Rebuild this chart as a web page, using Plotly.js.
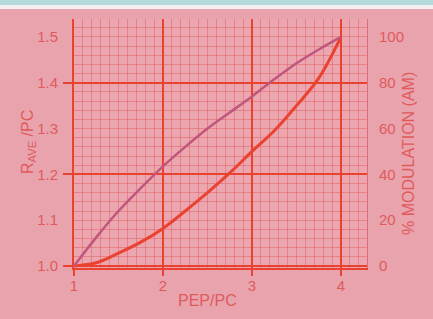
<!DOCTYPE html>
<html><head><meta charset="utf-8">
<script src="https://cdn.plot.ly/plotly-3.0.1.min.js"></script>
<style>
html,body{margin:0;padding:0;background:#e9a3ad;}
#wrap{position:relative;width:433px;height:319px;overflow:hidden;}
#chart{position:absolute;left:0;top:0;width:433px;height:319px;}
#strip1{position:absolute;left:0;top:0;width:433px;height:5px;background:#b4d9da;z-index:5;}
#strip2{position:absolute;left:0;top:5px;width:433px;height:4px;background:#f4eef0;z-index:5;}
</style></head><body>
<div id="wrap"><div id="chart"></div><div id="strip1"></div><div id="strip2"></div></div>
<script>
// PEP/PC (x axis)
const pep = [1, 1.25, 1.5, 1.75, 2, 2.25, 2.5, 2.75, 3, 3.25, 3.5, 3.75, 4];
// R_AVE/PC (left axis) – red curve
const rAve = [1.0, 1.007, 1.028, 1.052, 1.082, 1.12, 1.16, 1.203, 1.25, 1.295, 1.35, 1.41, 1.5];
// % modulation (AM) (right axis) – mauve curve
const modulation = [0, 12.5, 24, 34, 43.5, 52, 60, 67, 74, 81.5, 88.5, 94.5, 100];
// tick labels
const xTicks = [1, 2, 3, 4];
const yLeftTicks = [1.0, 1.1, 1.2, 1.3, 1.4, 1.5];
const yLeftLabels = ['1.0', '1.1', '1.2', '1.3', '1.4', '1.5'];
const yRightTicks = [0, 20, 40, 60, 80, 100];

const red = 'rgb(234,66,48)';
const mauve = 'rgb(192,86,126)';
const labelColor = 'rgb(224,90,92)';
const minorGrid = 'rgba(222,74,74,0.38)';
const font = {family: 'Liberation Sans, Arial, sans-serif', size: 15, color: labelColor};

const yRange = [0.9956, 1.539];
const xRange = [1, 4.292];
const traces = [
  {x: pep, y: modulation, yaxis: 'y2', mode: 'lines', line: {color: mauve, width: 2.5, shape: 'spline', smoothing: 1}, hoverinfo: 'skip'},
  {x: pep, y: rAve, yaxis: 'y', mode: 'lines', line: {color: red, width: 3, shape: 'spline', smoothing: 1}, hoverinfo: 'skip'}
];

const layout = {
  width: 433, height: 319,
  margin: {l: 74, r: 66, t: 19, b: 51},
  paper_bgcolor: '#e9a3ad',
  plot_bgcolor: '#eba6af',
  showlegend: false,
  font: font,
  xaxis: {
    range: xRange, tickvals: xTicks, ticktext: xTicks.map(String),
    showgrid: true, gridcolor: red, gridwidth: 2,
    minor: {dtick: 0.1, tick0: 1, showgrid: true, gridcolor: minorGrid, gridwidth: 1},
    ticks: '', showline: true, linecolor: red, linewidth: 2, mirror: false,
    zeroline: false, tickfont: font, ticklabelstandoff: 3
  },
  xaxis2: {
    range: xRange, overlaying: 'x', side: 'bottom', tickvals: xTicks, showticklabels: false,
    showgrid: false, zeroline: false, ticks: 'outside', ticklen: 7, tickwidth: 2, tickcolor: red
  },
  yaxis: {
    range: yRange, tickvals: yLeftTicks, ticktext: yLeftLabels,
    showgrid: false, zeroline: false, ticks: '', tickfont: font,
    ticklabelstandoff: 11, showline: true, linecolor: red, linewidth: 2
  },
  yaxis3: {
    range: yRange, overlaying: 'y', side: 'left', showticklabels: false,
    tick0: 1.0, dtick: 0.2, showgrid: true, gridcolor: red, gridwidth: 2,
    minor: {dtick: 0.02, tick0: 1.0, showgrid: true, gridcolor: minorGrid, gridwidth: 1},
    ticks: 'outside', ticklen: 10, tickwidth: 2, tickcolor: red, zeroline: false
  },
  yaxis2: {
    range: [(yRange[0] - 1) * 200, (yRange[1] - 1) * 200], overlaying: 'y', side: 'right',
    tickvals: yRightTicks, showgrid: false, zeroline: false, ticks: '',
    tickfont: font, ticklabelstandoff: 8, showline: true, linecolor: 'rgba(222,74,74,0.6)', linewidth: 1
  },
  annotations: [
    {text: 'PEP/PC', xref: 'paper', yref: 'paper', x: (207 - 74) / 293, y: -(300 - 268) / 249,
     showarrow: false, font: {family: font.family, size: 16, color: labelColor}, xanchor: 'center', yanchor: 'middle'},
    {text: 'R<sub>AVE</sub> /PC', xref: 'paper', yref: 'paper', x: -(74 - 28) / 293, y: (268 - 142) / 249,
     textangle: -90, showarrow: false, font: {family: font.family, size: 16, color: labelColor}, xanchor: 'center', yanchor: 'middle'},
    {text: '% MODULATION (AM)', xref: 'paper', yref: 'paper', x: 1 + (408 - 367) / 293, y: (268 - 154) / 249,
     textangle: -90, showarrow: false, font: {family: font.family, size: 16, color: labelColor}, xanchor: 'center', yanchor: 'middle'}
  ]
};

// Invisible traces bound to the helper axes so that their grid and ticks render
traces.unshift({x: [pep[0]], y: [rAve[0]], xaxis: 'x2', yaxis: 'y3', mode: 'markers', marker: {opacity: 0}, hoverinfo: 'skip'});

Plotly.newPlot('chart', traces, layout, {staticPlot: true, displayModeBar: false});
</script></body></html>
